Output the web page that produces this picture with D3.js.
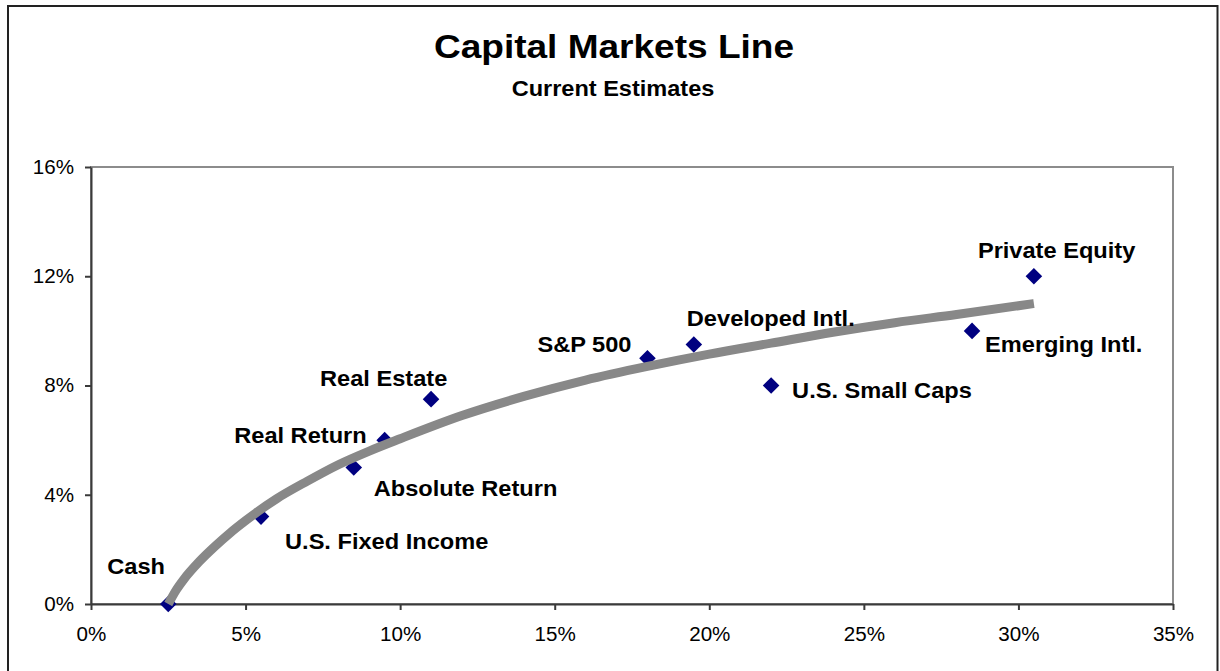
<!DOCTYPE html>
<html>
<head>
<meta charset="utf-8">
<script src="https://cdn.jsdelivr.net/npm/d3@7"></script>
<style>
  html, body { margin: 0; padding: 0; background: #fff; }
  svg { display: block; }
  text { font-family: "Liberation Sans", Arial, sans-serif; }
</style>
</head>
<body>
<svg id="chart" width="1220" height="671"></svg>
<script>
// ---------------- data ----------------
const assetNames = ["Cash", "U.S. Fixed Income", "Absolute Return", "Real Return", "Real Estate",
  "S&P 500", "Developed Intl.", "U.S. Small Caps", "Emerging Intl.", "Private Equity"];
const assetRisk   = [0.025, 0.055, 0.085, 0.095, 0.110, 0.180, 0.195, 0.220, 0.285, 0.305];
const assetReturn = [0.000, 0.032, 0.050, 0.060, 0.075, 0.090, 0.095, 0.080, 0.100, 0.120];

const cmlRisk   = [0.025, 0.0275, 0.030, 0.035, 0.040, 0.045, 0.050, 0.060, 0.070, 0.080, 0.090, 0.100,
  0.120, 0.140, 0.160, 0.180, 0.200, 0.220, 0.240, 0.260, 0.280, 0.305];
const cmlReturn = [0.000, 0.005, 0.009, 0.0155, 0.021, 0.026, 0.0305, 0.0385, 0.045, 0.051, 0.056, 0.0605,
  0.069, 0.076, 0.082, 0.087, 0.0915, 0.0955, 0.0995, 0.103, 0.106, 0.110];

const xTicks = [0, 0.05, 0.10, 0.15, 0.20, 0.25, 0.30, 0.35];
const yTicks = [0, 0.04, 0.08, 0.12, 0.16];

const titleText = "Capital Markets Line";
const subtitleText = "Current Estimates";

// ---------------- layout ----------------
const plot = { left: 91, right: 1173, top: 167, bottom: 604 };
// label placement offsets relative to each marker (pixels)
const labelLayout = [
  { dx: -61, dy: -30, anchor: "start" },
  { dx: 24,  dy: 32,  anchor: "start" },
  { dx: 20,  dy: 29,  anchor: "start" },
  { dx: -18, dy: 3,   anchor: "end" },
  { dx: -111, dy: -13, anchor: "start" },
  { dx: -16, dy: -6,  anchor: "end" },
  { dx: -7,  dy: -19, anchor: "start" },
  { dx: 21,  dy: 12,  anchor: "start" },
  { dx: 13,  dy: 21,  anchor: "start" },
  { dx: -56, dy: -18, anchor: "start" }
];

const svg = d3.select("#chart");

// outer frame
svg.append("rect")
  .attr("x", 8).attr("y", 6).attr("width", 1209.5).attr("height", 720)
  .attr("fill", "#fff").attr("stroke", "#222").attr("stroke-width", 2);

const x = d3.scaleLinear().domain([0, 0.35]).range([plot.left, plot.right]);
const y = d3.scaleLinear().domain([0, 0.16]).range([plot.bottom, plot.top]);

// plot area border
svg.append("rect")
  .attr("x", plot.left).attr("y", plot.top)
  .attr("width", plot.right - plot.left).attr("height", plot.bottom - plot.top)
  .attr("fill", "#fff").attr("stroke", "#8c8c8c").attr("stroke-width", 2);

function stretchTicks(g, s) {
  g.selectAll(".tick text").each(function () {
    const t = d3.select(this);
    const tx = +t.attr("x") || 0;
    t.attr("x", 0).attr("transform", `translate(${tx},0) scale(${s},1)`);
  });
}

// axes
const yAxis = svg.append("g")
  .attr("transform", `translate(${plot.left},0)`)
  .call(d3.axisLeft(y).tickValues(yTicks).tickFormat(d3.format(".0%"))
    .tickSize(6).tickSizeOuter(0).tickPadding(11));
const xAxis = svg.append("g")
  .attr("transform", `translate(0,${plot.bottom})`)
  .call(d3.axisBottom(x).tickValues(xTicks).tickFormat(d3.format(".0%"))
    .tickSize(6).tickSizeOuter(0).tickPadding(17));

[yAxis, xAxis].forEach(g => {
  g.select(".domain").attr("stroke", "#3a3a3a").attr("stroke-width", 2);
  g.selectAll(".tick line").attr("stroke", "#3a3a3a").attr("stroke-width", 2);
  g.selectAll(".tick text")
    .attr("fill", "#000")
    .style("font-family", '"Liberation Sans", Arial, sans-serif')
    .style("font-size", "20px");
  stretchTicks(g, 1.03);
});

// asset markers
const assets = assetNames.map((n, i) => ({ name: n, risk: assetRisk[i], ret: assetReturn[i], lay: labelLayout[i] }));
const diamond = d3.symbol().type(d3.symbolDiamond2).size(175);
svg.append("g").selectAll("path")
  .data(assets).join("path")
  .attr("d", diamond)
  .attr("transform", d => `translate(${x(d.risk)},${y(d.ret)})`)
  .attr("fill", "#000080");

// capital markets line (drawn on top of markers)
const cml = cmlRisk.map((r, i) => [r, cmlReturn[i]]);
svg.append("path")
  .datum(cml)
  .attr("d", d3.line().x(d => x(d[0])).y(d => y(d[1])).curve(d3.curveMonotoneX))
  .attr("fill", "none")
  .attr("stroke", "#888")
  .attr("stroke-width", 9)
  .attr("stroke-linecap", "butt");

// labels
svg.append("g").selectAll("text")
  .data(assets).join("text")
  .attr("transform", d => `translate(${x(d.risk) + d.lay.dx},${y(d.ret) + d.lay.dy}) scale(1.05,1)`)
  .attr("text-anchor", d => d.lay.anchor)
  .style("font-size", "22.5px")
  .style("font-weight", "bold")
  .attr("fill", "#000")
  .text(d => d.name);

// titles
svg.append("text")
  .attr("transform", "translate(614,58) scale(1.14,1)")
  .attr("text-anchor", "middle")
  .style("font-size", "32.5px").style("font-weight", "bold")
  .text(titleText);
svg.append("text")
  .attr("transform", "translate(613,96) scale(1.07,1)")
  .attr("text-anchor", "middle")
  .style("font-size", "22px").style("font-weight", "bold")
  .text(subtitleText);
</script>
</body>
</html>
